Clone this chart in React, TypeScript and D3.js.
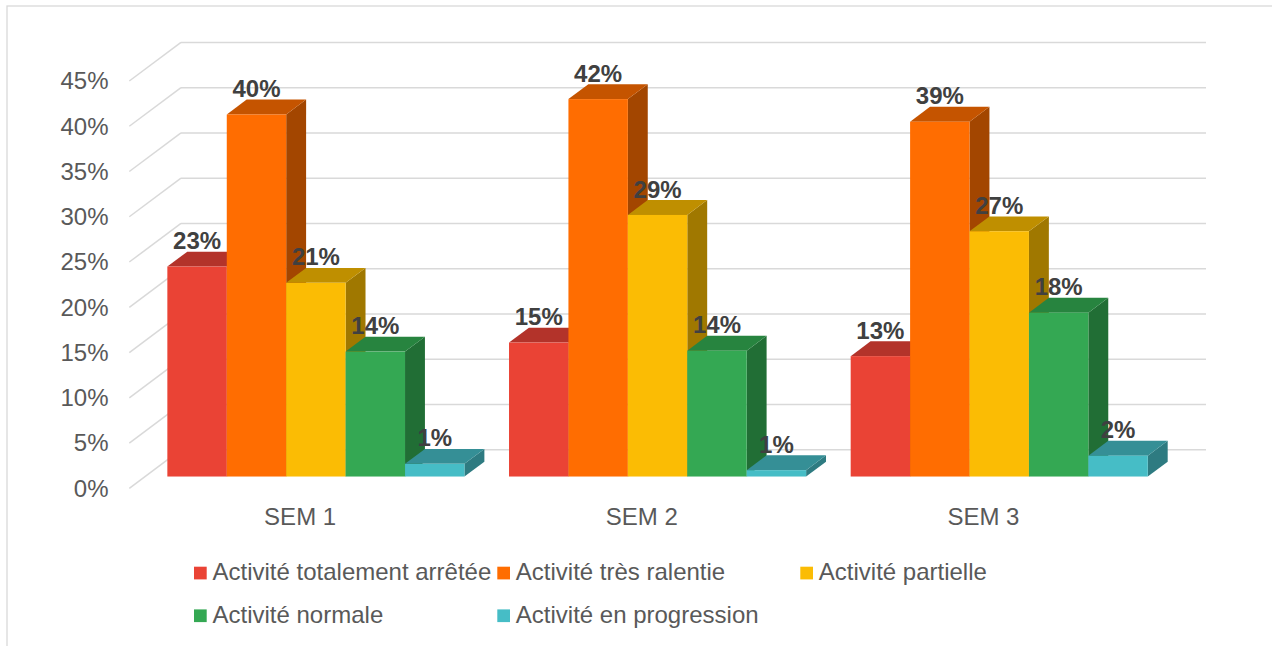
import React from "react";
import * as d3 from "d3";

const categories = ["SEM 1", "SEM 2", "SEM 3"];
const seriesNames = [
  "Activité totalement arrêtée",
  "Activité très ralentie",
  "Activité partielle",
  "Activité normale",
  "Activité en progression",
];
const totalementArretee = [23.2, 14.8, 13.3];
const tresRalentie = [40.0, 41.7, 39.2];
const partielle = [21.4, 28.9, 27.1];
const normale = [13.8, 13.9, 18.1];
const enProgression = [1.4, 0.7, 2.3];
const seriesValues = [totalementArretee, tresRalentie, partielle, normale, enProgression];
const yTicks = [0, 5, 10, 15, 20, 25, 30, 35, 40, 45];

const frontColors = ["#EA4335", "#FF6D01", "#FBBC04", "#34A853", "#46BDC6"];
const topColors = ["#B3332A", "#C55400", "#BF8F00", "#27843F", "#358F96"];
const sideColors = ["#9C2C24", "#A34600", "#A07800", "#216E35", "#2E7B81"];

const FONT = "'Liberation Sans', Arial, Helvetica, sans-serif";

export default function App() {
  const W = 1272;
  const H = 646;
  const D = { x: 51.7, y: -38.6 }; // depth vector of the 3D box
  const fFront = 0.305;
  const fDepth = 0.385;

  const x = d3.scaleBand<string>().domain(categories).range([129.3, 1154.3]).padding(0);
  const y = d3.scaleLinear().domain([0, 45]).range([488.3, 81]);
  const catW = x.bandwidth();
  const gapHalf = (catW * 0.75) / 5.75 / 2;
  const xs = d3.scaleBand<string>().domain(seriesNames).range([gapHalf, catW - gapHalf]).padding(0);
  const bw = xs.bandwidth();
  const dd = { x: D.x * fDepth, y: D.y * fDepth };

  const x0 = x.range()[0];
  const x1 = x.range()[1];

  const pts = (arr: number[][]) => arr.map((p) => p.join(",")).join(" ");

  const bars: React.ReactNode[] = [];
  const labels: React.ReactNode[] = [];
  categories.forEach((cat, ci) => {
    seriesNames.forEach((s, si) => {
      const v = seriesValues[si][ci];
      const bx = (x(cat) as number) + (xs(s) as number) + fFront * D.x;
      const yt = y(v) + fFront * D.y;
      const yb = y(0) + fFront * D.y;
      bars.push(
        <g key={`b-${ci}-${si}`}>
          <polygon
            points={pts([
              [bx + bw, yt],
              [bx + bw, yb],
              [bx + bw + dd.x, yb + dd.y],
              [bx + bw + dd.x, yt + dd.y],
            ])}
            fill={sideColors[si]}
          />
          <polygon
            points={pts([
              [bx, yt],
              [bx + bw, yt],
              [bx + bw + dd.x, yt + dd.y],
              [bx + dd.x, yt + dd.y],
            ])}
            fill={topColors[si]}
          />
          <rect x={bx} y={yt} width={bw} height={yb - yt} fill={frontColors[si]} />
        </g>
      );
      labels.push(
        <text
          key={`l-${ci}-${si}`}
          x={bx + bw / 2}
          y={yt + dd.y - 2.5}
          textAnchor="middle"
          fontFamily={FONT}
          fontWeight="bold"
          fontSize={24}
          fill="#404040"
        >
          {Math.round(v)}%
        </text>
      );
    });
  });

  const legendCols = [194, 497.3, 800.3];
  const legendRows = [580, 622.7];
  const legendPos = [
    [0, 0],
    [1, 0],
    [2, 0],
    [0, 1],
    [1, 1],
  ];

  return (
    <svg
      width={W}
      height={H}
      style={{ position: "absolute", left: 0, top: 0, background: "#fff" }}
    >
      <rect x={7} y={6} width={1300} height={700} fill="#fff" stroke="#D9D9D9" strokeWidth={1.3} />
      {yTicks.map((t) => (
        <g key={`g-${t}`}>
          <line x1={x0} y1={y(t)} x2={x0 + D.x} y2={y(t) + D.y} stroke="#D9D9D9" strokeWidth={1.5} />
          <line x1={x0 + D.x} y1={y(t) + D.y} x2={x1 + D.x} y2={y(t) + D.y} stroke="#D9D9D9" strokeWidth={1.5} />
          <text
            x={108.5}
            y={y(t)}
            dy="0.35em"
            textAnchor="end"
            fontFamily={FONT}
            fontSize={24}
            fill="#595959"
          >
            {t}%
          </text>
        </g>
      ))}
      {bars}
      {labels}
      {categories.map((c) => (
        <text
          key={c}
          x={(x(c) as number) + catW / 2}
          y={525}
          textAnchor="middle"
          fontFamily={FONT}
          fontSize={24}
          fill="#595959"
        >
          {c}
        </text>
      ))}
      {seriesNames.map((s, i) => {
        const lx = legendCols[legendPos[i][0]];
        const ly = legendRows[legendPos[i][1]];
        return (
          <g key={s}>
            <rect x={lx} y={ly - 13.3} width={12.7} height={12.7} fill={frontColors[i]} />
            <text x={lx + 18.5} y={ly} fontFamily={FONT} fontSize={24} fill="#595959">
              {s}
            </text>
          </g>
        );
      })}
    </svg>
  );
}
